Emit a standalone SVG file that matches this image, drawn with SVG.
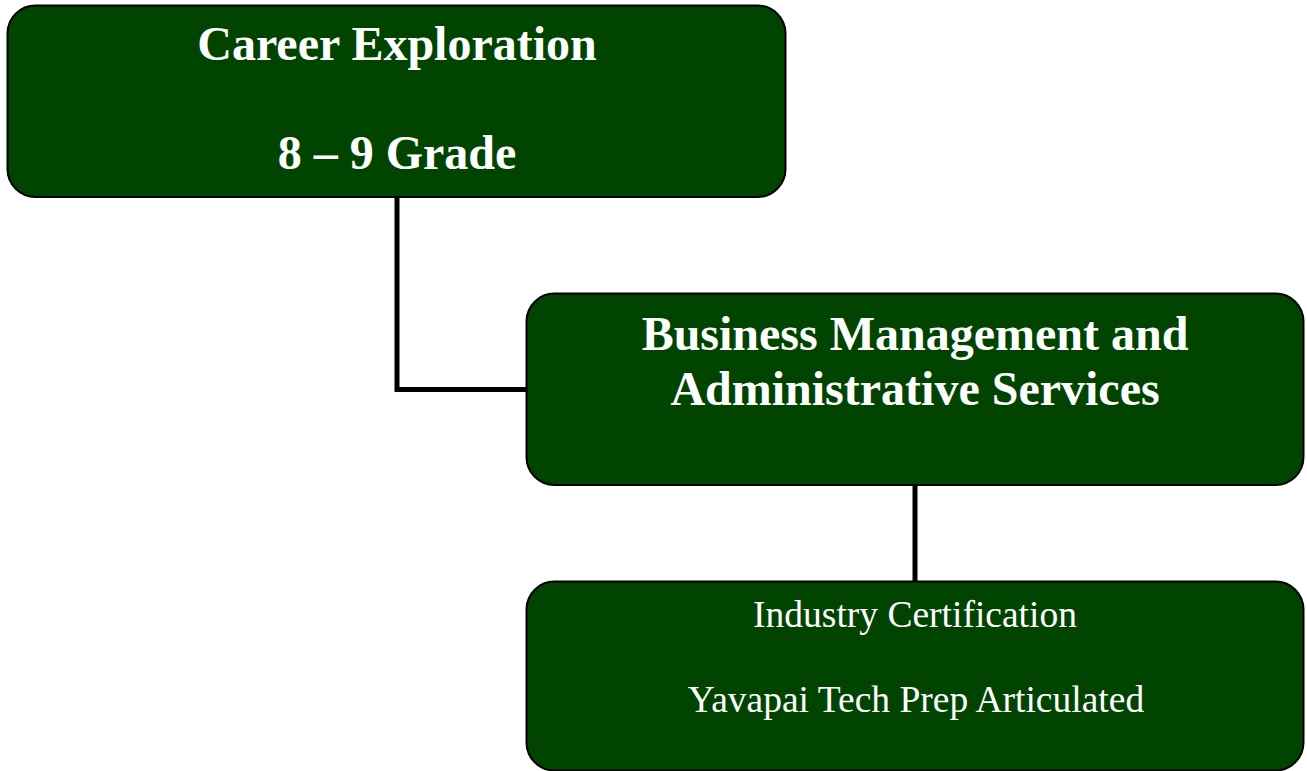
<svg xmlns="http://www.w3.org/2000/svg" width="1307" height="771" viewBox="0 0 1307 771">
<style>
.box{fill:#004400;stroke:#000;stroke-width:2}
.conn{fill:none;stroke:#000;stroke-width:5}
.tb{font-family:"Liberation Serif","Times New Roman",serif;font-weight:bold;font-size:48px;fill:#fff;text-anchor:middle}
.tr{font-family:"Liberation Serif","Times New Roman",serif;font-size:37.5px;fill:#fff;text-anchor:middle}
</style>
<rect width="1307" height="771" fill="#fff"/>
<g id="connectors">
<path class="conn" d="M397,197 V389.5 H527"/>
<path class="conn" d="M915,485 V582"/>
</g>
<g id="career-exploration">
<rect class="box" x="7.5" y="5.5" width="778" height="191.5" rx="28" ry="28"/>
<text class="tb" x="397" y="60">Career Exploration</text>
<text class="tb" x="397" y="169">8 – 9 Grade</text>
</g>
<g id="business-management">
<rect class="box" x="526.5" y="293.5" width="777" height="191.5" rx="28" ry="28"/>
<text class="tb" x="915" y="350">Business Management and</text>
<text class="tb" x="915" y="405">Administrative Services</text>
</g>
<g id="industry-certification">
<rect class="box" x="526.5" y="581.5" width="777" height="189" rx="28" ry="28"/>
<text class="tr" x="915" y="627">Industry Certification</text>
<text class="tr" x="916" y="712">Yavapai Tech Prep Articulated</text>
</g>
</svg>
